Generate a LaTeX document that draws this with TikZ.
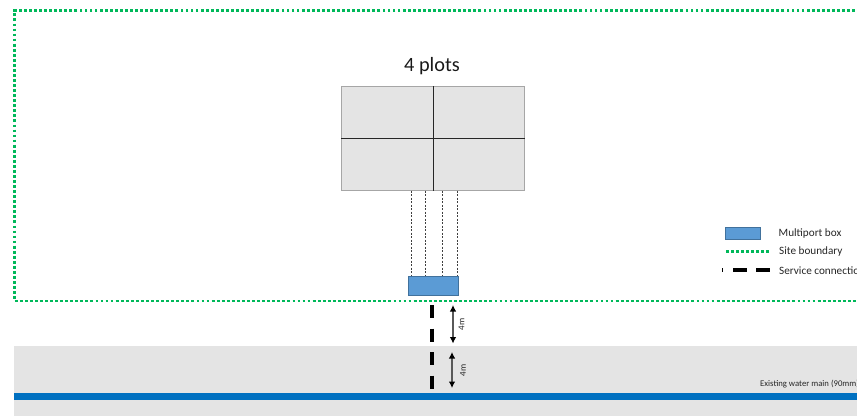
\documentclass[tikz,border=0pt]{standalone}
\usepackage{fontspec}
\setmainfont{Carlito}
\usetikzlibrary{arrows.meta}
\definecolor{plotgrey}{HTML}{E4E4E4}
\definecolor{plotedge}{HTML}{A6A6A6}
\definecolor{boxblue}{HTML}{5B9BD5}
\definecolor{boxedge}{HTML}{41719C}
\definecolor{mainblue}{HTML}{0070C0}
\definecolor{sitegreen}{HTML}{00B85A}
\tikzset{
  x=1pt,y=-1pt,
  plotbox/.style={draw=plotedge,fill=plotgrey,line width=1.1pt,minimum width=183pt,minimum height=103.5pt,inner sep=0pt},
  portbox/.style={draw=boxedge,fill=boxblue,line width=1.1pt,inner sep=0pt},
  sitedot/.style={draw=sitegreen,line width=2.8pt,dash pattern=on 2.8pt off 2.25pt},
  svcdash/.style={draw=black,line width=4pt,dash pattern=on 13pt off 10.5pt},
  feed/.style={draw=black!75,line width=.8pt,dash pattern=on 2pt off 1.5pt},
  divider/.style={draw=black!85,line width=1.1pt},
  dim/.style={draw=black!65,line width=1.1pt,{Latex[length=6.5pt,width=6.5pt,black]}-{Latex[length=6.5pt,width=6.5pt,black]}},
  lab/.style={inner sep=0pt,anchor=west,text=black!85,font=\fontsize{11.2pt}{13pt}\selectfont},
  dimlab/.style={inner sep=0pt,rotate=90,text=black!85,font=\fontsize{9pt}{10pt}\selectfont}
}
\begin{document}
\begin{tikzpicture}
\useasboundingbox (0,0) rectangle (857,416);
\clip (0,0) rectangle (857,416);
% ground and main
\fill[plotgrey] (14,345.5) rectangle (857,416);
\fill[mainblue] (14,392.5) rectangle (857,399.5);
% site boundary
\draw[sitedot] (860,10.5) -- (14.5,10.5) -- (14.5,301) -- (860,301);
% plots
\node[plotbox] (plots) at (433.2,138.3) {};
\draw[divider] (plots.north) ++(0.3,0) coordinate (vt) -- (vt |- plots.south);
\draw[divider] (plots.west) -- (plots.east);
\node[font=\fontsize{20.3pt}{24pt}\selectfont,text=black!90,inner sep=0pt] (title) at (432,66.5) {4 plots};
% multiport box
\node[portbox,minimum width=50pt,minimum height=19pt] (mp) at (433.5,286) {};
\foreach \xx/\nm in {411.5/a,425.5/b,442/c,457.5/d}{
  \coordinate (top\nm) at (\xx,190.5);
  \coordinate (bot\nm) at (\xx,276);
  \draw[feed] (top\nm) -- (bot\nm);
}
% service connection
\coordinate (svcA) at (432,305);
\coordinate (svcB) at (432,390);
\draw[svcdash] (svcA) -- (svcB);
% dimensions
\coordinate (d1a) at (453,305);
\coordinate (d1b) at (453,343.5);
\coordinate (d2a) at (452,352);
\coordinate (d2b) at (452,388);
\draw[dim] (d1a) -- (d1b);
\draw[dim] (d2a) -- (d2b);
\node[dimlab] (l1) at (461.5,324.5) {4m};
\node[dimlab] (l2) at (463,370.5) {4m};
% legend
\node[portbox,minimum width=35pt,minimum height=12.5pt] (lgbox) at (743,233.5) {};
\node[lab] (lgboxt) at (778.5,233.5) {Multiport box};
\coordinate (lgsa) at (726,251.5);
\coordinate (lgsb) at (770,251.5);
\draw[sitedot] (lgsa) -- (lgsb);
\node[lab] (lgsitet) at (779,252) {Site boundary};
\coordinate (lgca) at (722,270);
\coordinate (lgcb) at (771,270);
\draw[draw=black,line width=3.4pt,dash pattern=on 0.8pt off 10.4pt on 14pt off 9.2pt on 14pt off 20pt] (lgca) -- (lgcb);
\node[lab] (lgct) at (779,270.5) {Service connection};
\node[lab,font=\fontsize{8.7pt}{10pt}\selectfont] (wm) at (760,384.5) {Existing water main (90mm)};
\end{tikzpicture}
\end{document}
